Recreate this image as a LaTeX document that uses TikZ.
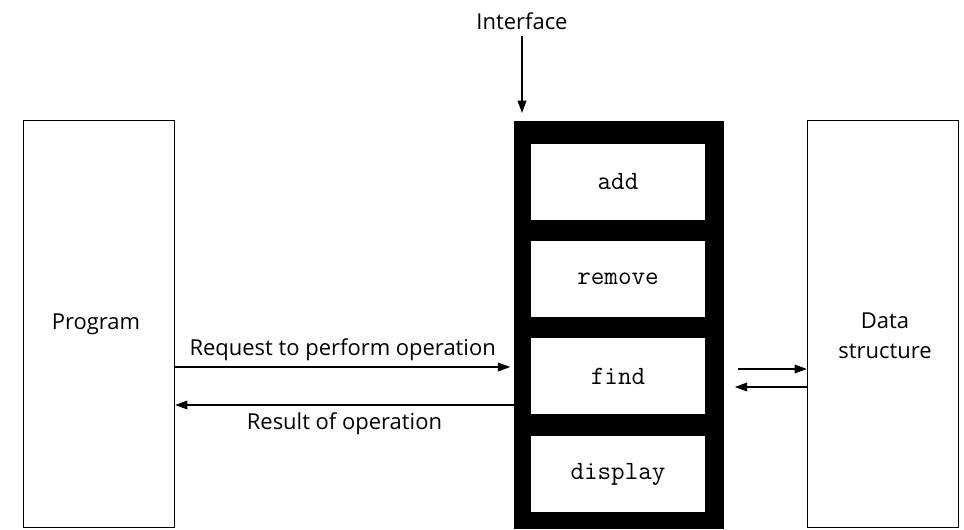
\documentclass[tikz,border=0pt]{standalone}
\usepackage{fontspec}
\setmainfont{Open Sans}
\usetikzlibrary{arrows.meta}

\tikzset{
	side/.style={draw, line width=0.8pt, minimum width=3.02cm, minimum height=8.14cm},
	opbox/.style={fill=white, minimum width=3.48cm, minimum height=1.52cm, font=\fontsize{15}{17}\selectfont\ttfamily},
	lbl/.style={font=\fontsize{12.5}{17}\selectfont, align=center},
}

\begin{document}
\begin{tikzpicture}[x=0.02cm, y=-0.02cm, >={Triangle[length=7pt, width=5pt]}]
				\useasboundingbox (0, 0) rectangle (964, 529);
				\node[side] (prog)at(99, 324) {};
				\node[lbl] (progtxt)at(96, 324) {Program};
				\node[side] (data)at(883, 324) {};
				\node[lbl] (datatxt)at(885, 336) {Data\\structure};
				\node[fill=black, minimum width=4.2cm, minimum height=8.16cm] (frame)at(619, 325) {};
				\node[opbox] (add)at(618, 182) {add};
				\node[opbox] (remove)at(618, 279) {remove};
				\node[opbox] (find)at(618, 376) {find};
				\node[opbox] (display)at(618, 474) {display};
				\node[lbl] (iface)at(522, 21) {Interface};
				\coordinate (top)at(522, 113);
				\draw[->, line width=0.6pt] (iface) -- (top);
				\draw[->, line width=0.6pt] (prog.east |- 0, 367) -- node[lbl, above] {Request to perform operation} ([xshift=-2pt]frame.west |- 0, 367);
				\draw[->, line width=0.6pt] (frame.west |- 0, 405) -- node[lbl, below, yshift=-1pt] {Result of operation} (prog.east |- 0, 405);
				\draw[->, line width=0.6pt] ([xshift=8pt]frame.east |- 0, 369) -- (data.west |- 0, 369);
				\draw[->, line width=0.6pt] (data.west |- 0, 387) -- ([xshift=6pt]frame.east |- 0, 387);
			\end{tikzpicture}
\end{document}
